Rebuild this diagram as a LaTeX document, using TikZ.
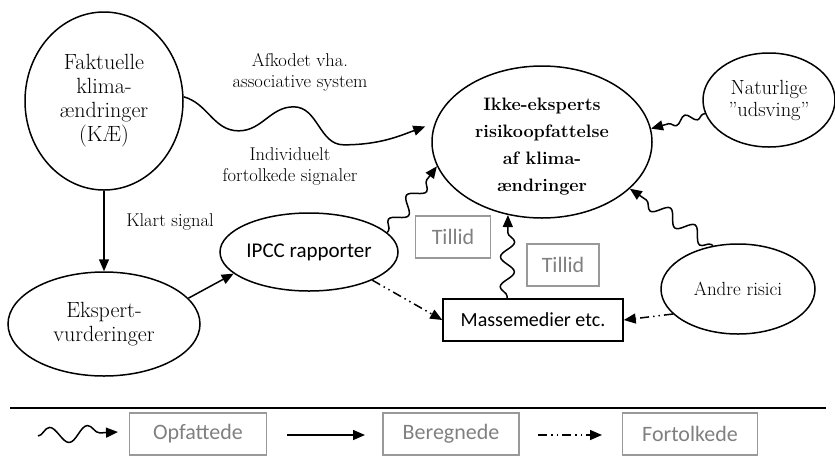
\documentclass[tikz,border=0pt]{standalone}
\usepackage{fontspec}
\newfontfamily\calibri{Carlito}
\usepackage{tikz}
\usetikzlibrary{arrows.meta, shapes.geometric, decorations.pathmorphing}

\begin{document}
\begin{tikzpicture}[
            x = 1pt, y = -1pt, % one unit per pixel
            > = {Triangle[length=12pt, width=10pt]}, % arrow head style
            line width = 1.5pt % line style
        ]

        \tikzstyle{oval}=[
            draw = black,
            ellipse,
            inner sep = 0pt,
            align = center,
            font = \fontsize{22}{24}\selectfont
        ]
        \tikzstyle{graybox}=[
            draw = black!40,
            line width = 1.3pt,
            minimum height = 42pt,
            text = black!50,
            font = \calibri\fontsize{22}{24}\selectfont
        ]
        \tikzstyle{label}=[align = center, font = \fontsize{18.5}{21}\selectfont]
        \tikzstyle{wavy}=[->, decorate, decoration = {snake, amplitude = 7pt,
            segment length = 30pt, pre length = 2pt, post length = 12pt}]
        \tikzstyle{dashdot}=[->, dash pattern = on 9pt off 4pt on 1.5pt off 4pt on 1.5pt off 4pt]

        \useasboundingbox (0,0) rectangle (835,459);

        \node[oval, minimum width = 158pt, minimum height = 178pt] (fakt) at (104,101)
            {Faktuelle\\klima-\\ændringer\\(KÆ)};
        \node[oval, minimum width = 192pt, minimum height = 104pt] (ekspert) at (104,324)
            {Ekspert-\\vurderinger};
        \node[oval, minimum width = 178pt, minimum height = 78pt,
            font = \calibri\fontsize{21}{24}\selectfont] (ipcc) at (309,252) {IPCC rapporter};
        \node[oval, minimum width = 220pt, minimum height = 152pt,
            font = \fontsize{18}{27}\selectfont\bfseries] (ikke) at (542,142)
            {\\[-6pt]Ikke-eksperts\\risikoopfattelse\\af klima-\\ændringer};
        \node[oval, minimum width = 132pt, minimum height = 94pt,
            font = \fontsize{20.5}{22}\selectfont] (natur) at (769,100) {Naturlige\\”udsving”};
        \node[oval, minimum width = 154pt, minimum height = 90pt,
            font = \fontsize{19}{22}\selectfont] (andre) at (738,289) {Andre risici};
        \node[draw, minimum width = 180pt, minimum height = 42pt,
            font = \calibri\fontsize{20}{22}\selectfont] (medier) at (533,320) {Massemedier etc.};

        \node[graybox, minimum width = 75pt] (tillidA) at (453,237) {Tillid};
        \node[graybox, minimum width = 72pt] (tillidB) at (563,265) {Tillid};

        \node[label] (afkodet) at (300,72) {Afkodet vha.\\associative system};
        \node[label] (individ) at (290,166) {Individuelt\\fortolkede signaler};
        \node[label] (klart) at (170,222) {Klart signal};

        % connectors
        \draw[->] (fakt.south) -- (ekspert.north);
        \draw[->] (ekspert.17) -- (ipcc.196);
        \draw[->, shorten > = 10pt] (fakt.3) to[out = -15, in = 180] ++(55,34)
            to[out = 0, in = 180] ++(55,-24) to[out = 0, in = 180] ++(50,38)
            to[out = 0, in = 200] (ikke.170);
        \draw[wavy] (ipcc.14) -- (ikke.193);
        \draw[wavy] (medier.140) -- (ikke.245);
        \draw[wavy, decoration = {amplitude = 4pt, segment length = 22pt}] (natur.192) -- (ikke.7);
        \draw[wavy] (andre.120) -- (ikke.332);
        \draw[dashdot] (ipcc.336) -- (medier.west);
        \draw[dashdot] (andre.201) -- (medier.east);

        % legend
        \coordinate (sepL) at (10,408);
        \coordinate (sepR) at (826,408);
        \draw (sepL) -- (sepR);

        \node[graybox, minimum width = 137pt] (opf) at (198,434) {Opfattede};
        \node[graybox, minimum width = 136pt] (ber) at (451,434) {Beregnede};
        \node[graybox, minimum width = 135pt] (fort) at (690,434) {Fortolkede};

        \coordinate (wavyA) at (38,436);
        \coordinate (wavyB) at (118,432);
        \coordinate (lineA) at (287,435);
        \coordinate (lineB) at (365,435);
        \coordinate (dashA) at (538,435);
        \coordinate (dashB) at (602,435);
        \draw[->, decorate, decoration = {snake, amplitude = 8pt,
            segment length = 38pt, post length = 14pt}] (wavyA) -- (wavyB);
        \draw[->] (lineA) -- (lineB);
        \draw[dashdot] (dashA) -- (dashB);

\end{tikzpicture}
\end{document}
